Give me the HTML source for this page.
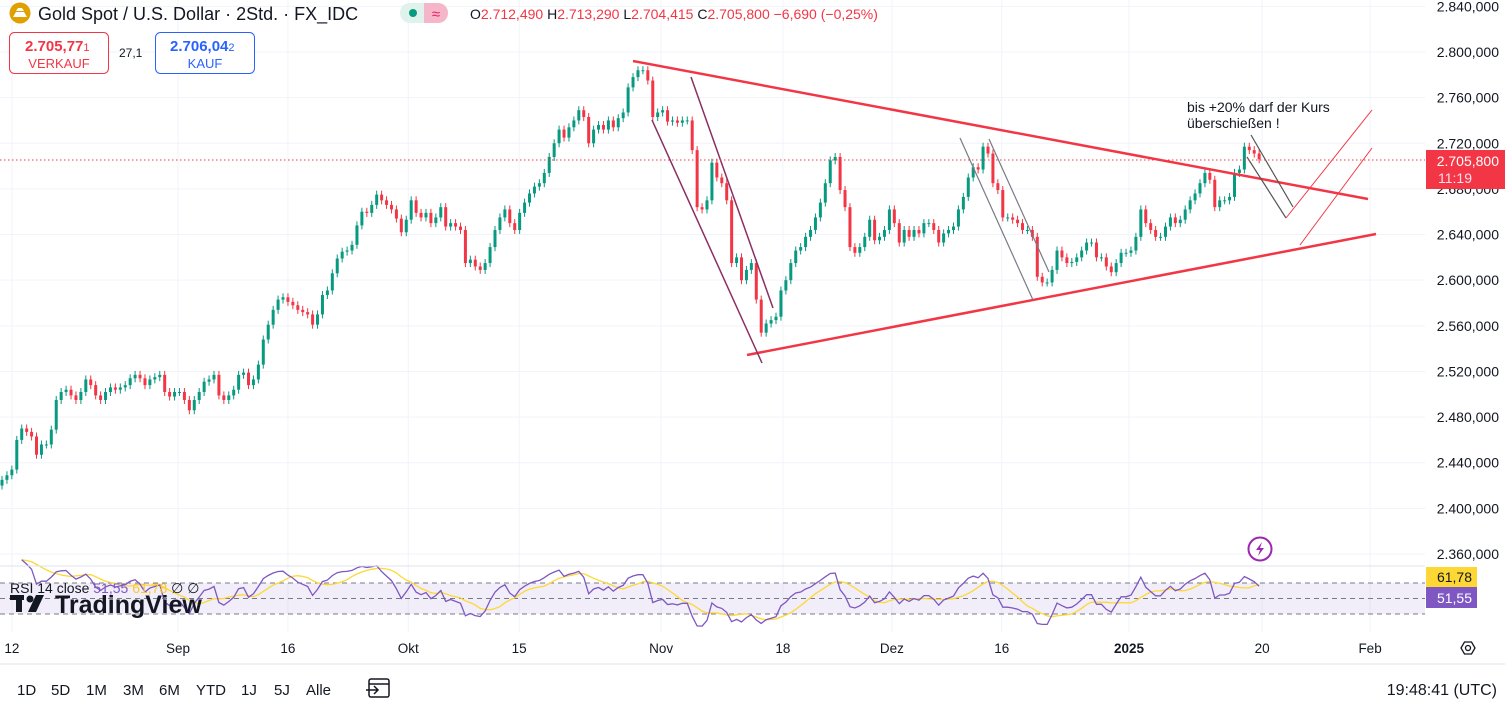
<!DOCTYPE html>
<html><head><meta charset="utf-8">
<style>
body{margin:0;width:1505px;height:711px;overflow:hidden;background:#fff;font-family:"Liberation Sans",sans-serif;}
svg{display:block}
text{font-family:"Liberation Sans",sans-serif}
</style></head>
<body>
<svg id="chart" width="1505" height="711" viewBox="0 0 1505 711" xmlns="http://www.w3.org/2000/svg">
<g id="grid"></g>
<g id="rsi"></g>
<g id="candles"></g>
<g id="drawings">
  <line x1="633" y1="61" x2="1368" y2="199" stroke="#f23645" stroke-width="2.5"/>
  <line x1="747" y1="355" x2="1376" y2="234" stroke="#f23645" stroke-width="2.5"/>
  <line x1="652" y1="120" x2="762" y2="363" stroke="#8b2f63" stroke-width="1.5"/>
  <line x1="691" y1="77" x2="773" y2="308" stroke="#8b2f63" stroke-width="1.5"/>
  <line x1="960" y1="138" x2="1033" y2="300" stroke="#787b86" stroke-width="1.2"/>
  <line x1="989" y1="139" x2="1049" y2="272" stroke="#787b86" stroke-width="1.2"/>
  <line x1="1251" y1="135" x2="1293" y2="207" stroke="#555" stroke-width="1.2"/>
  <line x1="1247" y1="157" x2="1286" y2="218" stroke="#555" stroke-width="1.2"/>
  <line x1="1286" y1="218" x2="1372" y2="110" stroke="#f23645" stroke-width="1"/>
  <line x1="1300" y1="245" x2="1372" y2="148" stroke="#f23645" stroke-width="1"/>
  <text x="1187" y="112" font-size="14" fill="#131722">bis +20% darf der Kurs</text>
  <text x="1187" y="128" font-size="14" fill="#131722">überschießen !</text>
</g>
<line x1="0" y1="160" x2="1425" y2="160" stroke="#f23645" stroke-dasharray="1.5 2.5" stroke-width="1"/>
<g id="axis"></g>
<g>
  <rect x="1426" y="150" width="79" height="39" fill="#f23645"/>
  <text x="1499" y="166" font-size="14" fill="#fff" text-anchor="end">2.705,800</text>
  <text x="1438" y="183" font-size="14" fill="#fde" >11:19</text>
</g>
<g>
  <rect x="1426" y="567" width="51" height="20" fill="#fdd835"/>
  <text x="1472" y="582" font-size="14" fill="#131722" text-anchor="end">61,78</text>
  <rect x="1426" y="587" width="51" height="21" fill="#7e57c2"/>
  <text x="1472" y="603" font-size="14" fill="#fff" text-anchor="end">51,55</text>
</g>
<g id="timeaxis"></g>
<line x1="0" y1="566" x2="1425" y2="566" stroke="#e0e3eb"/>
<line x1="0" y1="664" x2="1505" y2="664" stroke="#e0e3eb"/>
<g>
  <circle cx="1260" cy="549" r="11.5" fill="#fff" stroke="#9c27b0" stroke-width="2"/>
  <path d="M1262 542 L1256 550 L1260 550 L1258 556 L1264 548 L1260 548 Z" fill="#9c27b0"/>
</g>
<g>
  <circle cx="20" cy="13" r="10.5" fill="#e0a100"/>
  <path d="M13 17 L16 12 L24 12 L27 17 Z M16 11 L18 8 L22 8 L24 11 Z" fill="#fff"/>
  <text x="38" y="20" font-size="18" fill="#131722">Gold Spot / U.S. Dollar · 2Std. · FX_IDC</text>
  <rect x="400" y="3" width="48" height="20" rx="10" fill="#dff2ec"/>
  <path d="M424 3 H438 A10 10 0 0 1 438 23 H424 Z" fill="#f4b6c8"/>
  <circle cx="413" cy="13" r="4" fill="#089981"/>
  <text x="436" y="19" font-size="15" fill="#e91e63" text-anchor="middle">≈</text>
  <text x="470" y="19" font-size="14" fill="#f23645"><tspan fill="#131722">O</tspan>2.712,490 <tspan fill="#131722">H</tspan>2.713,290 <tspan fill="#131722">L</tspan>2.704,415 <tspan fill="#131722">C</tspan>2.705,800 −6,690 (−0,25%)</text>
  <rect x="9.5" y="32.5" width="99" height="41" rx="5" fill="#fff" stroke="#f23645"/>
  <text x="25" y="51" font-size="15" font-weight="bold" fill="#f23645">2.705,77<tspan font-size="11" font-weight="normal">1</tspan></text>
  <text x="59" y="68" font-size="13" fill="#f23645" text-anchor="middle">VERKAUF</text>
  <text x="119" y="57" font-size="12" fill="#131722">27,1</text>
  <rect x="155.5" y="32.5" width="99" height="41" rx="5" fill="#fff" stroke="#2962ff"/>
  <text x="170" y="51" font-size="15" font-weight="bold" fill="#2962ff">2.706,04<tspan font-size="11" font-weight="normal">2</tspan></text>
  <text x="205" y="68" font-size="13" fill="#2962ff" text-anchor="middle">KAUF</text>
</g>
<g>
  <text x="10" y="593" font-size="14" fill="#131722">RSI 14 close <tspan fill="#7e57c2">51,55</tspan> <tspan fill="#fdc72f">61,78</tspan> ∅ ∅</text>
</g>
<g>
  <rect x="10" y="595" width="14" height="5" fill="#131722"/><rect x="16" y="595" width="6" height="17" fill="#131722"/>
  <circle cx="30" cy="599" r="3.5" fill="#131722"/><path d="M36 595 H44 L36 612 H28 Z" fill="#131722"/>
  <text x="55" y="613" font-size="25" font-weight="bold" fill="#131722">TradingView</text>
</g>
<g>
  <text x="17" y="695" font-size="15" fill="#131722">1D</text>
  <text x="51" y="695" font-size="15" fill="#131722">5D</text>
  <text x="86" y="695" font-size="15" fill="#131722">1M</text>
  <text x="123" y="695" font-size="15" fill="#131722">3M</text>
  <text x="159" y="695" font-size="15" fill="#131722">6M</text>
  <text x="196" y="695" font-size="15" fill="#131722">YTD</text>
  <text x="241" y="695" font-size="15" fill="#131722">1J</text>
  <text x="274" y="695" font-size="15" fill="#131722">5J</text>
  <text x="306" y="695" font-size="15" fill="#131722">Alle</text>
  <g stroke="#131722" fill="none" stroke-width="1.5">
    <rect x="369" y="679" width="20" height="18" rx="2"/><line x1="369" y1="684" x2="389" y2="684"/><path d="M366 690 H378 M374 686 L378 690 L374 694"/>
  </g>
  <text x="1497" y="695" font-size="16" fill="#131722" text-anchor="end">19:48:41 (UTC)</text>
</g>
<g>
  <path d="M1461 648 L1464.5 642 H1471.5 L1475 648 L1471.5 654 H1464.5 Z" fill="none" stroke="#131722" stroke-width="1.3"/>
  <circle cx="1468" cy="648" r="2.5" fill="none" stroke="#131722" stroke-width="1.3"/>
</g>
</svg>
<script>
const closes = [2425,2429,2434,2460,2470,2467,2463,2447,2456,2456,2469,2495,2502,2504,2499,2495,2502,2513,2508,2499,2495,2502,2506,2504,2506,2508,2514,2517,2514,2508,2513,2515,2517,2502,2498,2502,2502,2495,2486,2495,2502,2511,2513,2517,2499,2495,2499,2504,2517,2519,2508,2513,2526,2548,2561,2574,2583,2585,2581,2578,2574,2572,2570,2561,2570,2587,2591,2606,2619,2625,2626,2631,2648,2660,2659,2666,2675,2670,2666,2662,2654,2642,2653,2670,
2659,2655,2659,2650,2655,2664,2647,2650,2647,2644,2615,2618,2612,2609,2615,2629,2644,2655,2662,2650,2644,2659,2668,2676,2682,2685,2694,2708,2720,2732,2725,2734,2740,2749,2743,2720,2732,2736,2732,2740,2734,2742,2747,2769,2778,2784,2784,2775,2743,2747,2749,2739,2740,2738,2740,2740,2714,2664,2662,2670,2703,2690,2685,2670,2615,2620,2600,2609,2615,2583,2554,2562,2565,2568,2591,2600,2615,2626,
2629,2638,2644,2655,2668,2685,2705,2708,2679,2664,2629,2624,2629,2638,2653,2635,2638,2644,2662,2650,2633,2644,2638,2644,2641,2650,2650,2644,2633,2641,2644,2647,2662,2673,2690,2699,2697,2717,2711,2685,2679,2655,2655,2653,2650,2644,2644,2638,2603,2598,2598,2609,2626,2620,2615,2616,2620,2626,2633,2633,2620,2620,2612,2607,2615,2624,2624,2626,2638,2662,2650,2644,2638,2638,2647,2655,2650,2653,2662,2670,2676,2685,2694,2688,2664,2670,2670,2673,2694,2697,2717,2714,2711,2706];
const firstOpen = 2420;
const priceTicks = [2840,2800,2760,2720,2680,2640,2600,2560,2520,2480,2440,2400,2360];
const timeLabels = ["12","Sep","16","Okt","15","Nov","18","Dez","16","2025","20","Feb"];
const timeLabelIdx = [2,35.7,58,82.4,104.9,133.7,158.4,180.5,202.8,228.6,255.6,277.5];
const rsiLevels = [70,50,30];

const NS="http://www.w3.org/2000/svg";
function mk(tag, attrs, parent){const e=document.createElementNS(NS,tag);for(const k in attrs)e.setAttribute(k,attrs[k]);parent.appendChild(e);return e;}
const yP = p => 52 + (2800 - p) * 1.1409;
const step = 4.93;
const xI = i => 2 + i * step;
const yR = r => 598.5 - (r - 50) * 0.775;

const grid=document.getElementById('grid');
priceTicks.forEach(p=>{const l=mk('line',{x1:0,x2:1425,y1:yP(p),y2:yP(p),stroke:'#f0f3fa'},grid);

});
const tax=document.getElementById('timeaxis');
timeLabels.forEach((t,k)=>{const x=xI(timeLabelIdx[k]);
const l=mk('line',{x1:x,x2:x,y1:0,y2:632,stroke:'#f0f3fa'},grid);


const tx=mk('text',{x:x,y:653,'font-size':13.5,'text-anchor':'middle',fill:'#131722','font-weight':t==='2025'?'bold':'normal'},tax);
tx.textContent=t;

});

const ax=document.getElementById('axis');
priceTicks.forEach(p=>{const t=mk('text',{x:1499,y:yP(p)+5,'font-size':14,'text-anchor':'end',fill:'#131722'},ax);
t.textContent=String(p).replace(/^(\d)(\d{3})$/,'$1.$2')+',000';

});

const cg=document.getElementById('candles');
closes.forEach((c,i)=>{const o=i===0?firstOpen:closes[i-1];const up=c>=o;const col=up?'#089981':'#f23645';
const x=xI(i);const yt=yP(Math.max(o,c)), yb=yP(Math.min(o,c));
const w=mk('line',{x1:x,x2:x,y1:yt-4,y2:yb+4,stroke:col,'stroke-width':1},cg);


const b=mk('rect',{x:x-1.5,y:yt,width:3,height:Math.max(1,yb-yt),fill:col},cg);

});

// RSI
const rg=document.getElementById('rsi');
const band=mk('rect',{x:0,y:yR(70),width:1425,height:yR(30)-yR(70),fill:'#7e57c2','fill-opacity':0.1},rg);


rsiLevels.forEach(v=>{const l=mk('line',{x1:0,x2:1425,y1:yR(v),y2:yR(v),stroke:'#787b86','stroke-dasharray':'5 4','stroke-width':1},rg);

});
const N=8;
const rsi=[];let ag=0,al=0;
closes.forEach((c,i)=>{const o=i===0?firstOpen:closes[i-1];const d=c-o;const g=Math.max(d,0),ls=Math.max(-d,0);
if(i<N){ag+=g/N;al+=ls/N;}else{ag=(ag*(N-1)+g)/N;al=(al*(N-1)+ls)/N;}
rsi.push(al===0?100:100-100/(1+ag/al));});
const ma=rsi.map((v,i)=>{const s=rsi.slice(Math.max(0,i-7),i+1);return s.reduce((a,b)=>a+b,0)/s.length;});
const start=4;
let d1='',d2='';
for(let i=start;i<rsi.length;i++){d1+=(i===start?'M':'L')+xI(i).toFixed(1)+' '+yR(rsi[i]).toFixed(1);d2+=(i===start?'M':'L')+xI(i).toFixed(1)+' '+yR(ma[i]).toFixed(1);}
const p2=mk('path',{d:d2,fill:'none',stroke:'#fdd835','stroke-width':1.3},rg);


const p1=mk('path',{d:d1,fill:'none',stroke:'#7e57c2','stroke-width':1.3},rg);


</script>
</body></html>
